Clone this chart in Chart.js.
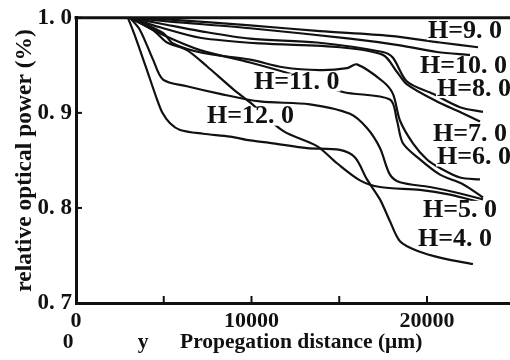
<!DOCTYPE html>
<html>
<head>
<meta charset="utf-8">
<script src="https://cdn.jsdelivr.net/npm/chart.js@4/dist/chart.umd.min.js"></script>
<style>
html,body{margin:0;padding:0;background:#fff;overflow:hidden;width:510px;height:360px;}
canvas{display:block;}
</style>
</head>
<body>
<canvas id="c" width="520" height="360"></canvas>
<script>
// ---- data (propagation distance in µm, relative optical power) ----
const dist_H9  = [3080,5360,9920,13900,17890,20740,22910];
const power_H9 = [1.000,0.998,0.992,0.986,0.981,0.974,0.969];

const dist_H10  = [3080,5360,9920,15610,18460,20570,22450];
const power_H10 = [1.000,0.996,0.989,0.978,0.971,0.964,0.961];

const dist_H8  = [3080,4790,7070,9920,13730,17490,18060,18860,20340,21880,23190];
const power_H8 = [1.000,0.994,0.986,0.978,0.974,0.964,0.958,0.933,0.920,0.906,0.901];

const dist_H7  = [3080,4790,7070,10480,15040,17490,18290,18860,20570,21880,23020];
const power_H7 = [1.000,0.990,0.979,0.973,0.969,0.961,0.943,0.930,0.912,0.901,0.891];

const dist_H6  = [3080,4960,5530,7240,9920,11800,13900,15440,16010,17490,18060,18460,19200,20000,20740,21880,23020];
const power_H6 = [1.000,0.984,0.973,0.963,0.956,0.948,0.945,0.947,0.951,0.933,0.920,0.892,0.868,0.851,0.842,0.832,0.830];

const dist_H11  = [3080,5070,7070,9920,12760,15210,17890,18290,18630,19600,20740,22050,23190];
const power_H11 = [1.000,0.981,0.966,0.953,0.938,0.922,0.914,0.892,0.868,0.851,0.835,0.825,0.811];

const dist_H5  = [3080,3650,4390,4960,6320,8210,10480,13330,15610,16580,17320,17890,18460,20170,21710,23190];
const power_H5 = [1.000,0.987,0.956,0.935,0.928,0.920,0.912,0.909,0.899,0.884,0.863,0.835,0.827,0.822,0.816,0.809];

const dist_H12  = [3080,4390,5190,6320,7460,8950,9920,11800,13730,14870,16180,17320,19600,21310,23020];
const power_H12 = [1.000,0.987,0.974,0.966,0.949,0.925,0.911,0.881,0.865,0.847,0.829,0.822,0.819,0.814,0.806];

const dist_H4  = [2960,3360,3930,4620,4900,5360,5930,7240,8780,9920,11230,13160,15040,15900,16580,17320,17890,18460,19430,20910,22620];
const power_H4 = [1.000,0.981,0.951,0.914,0.901,0.889,0.882,0.878,0.875,0.871,0.868,0.863,0.861,0.853,0.830,0.809,0.786,0.765,0.755,0.747,0.741];

const seriesNames = ['H=9.0','H=10.0','H=8.0','H=7.0','H=6.0','H=11.0','H=5.0','H=12.0','H=4.0'];
const seriesDist  = [dist_H9,dist_H10,dist_H8,dist_H7,dist_H6,dist_H11,dist_H5,dist_H12,dist_H4];
const seriesPower = [power_H9,power_H10,power_H8,power_H7,power_H6,power_H11,power_H5,power_H12,power_H4];

// curve annotations (text + anchor in data units)
const labelText = ['H=9. 0','H=10. 0','H=8. 0','H=11. 0','H=12. 0','H=7. 0','H=6. 0','H=5. 0','H=4. 0'];
const labelDist = [20060,19600,20570,10140,7460,20340,20570,19770,19490];
const labelPow  = [0.986,0.949,0.925,0.932,0.896,0.877,0.853,0.798,0.767];

const yTicks = [0.7,0.8,0.9,1.0];
const xTicks = [0,5000,10000,15000,20000,25000];
const xLabelled = [0,10000,20000];

const SERIF = "'Liberation Serif','DejaVu Serif',serif";
const INK = '#111';

const datasets = seriesNames.map((n,i)=>({
  label:n,
  data: seriesDist[i].map((x,j)=>({x:x,y:seriesPower[i][j]})),
  borderColor: INK,
  borderWidth: 2.2,
  pointRadius: 0,
  fill:false,
  tension:0.3
}));

const framePlugin = {
  id:'frame',
  afterDraw(chart){
    const ctx = chart.ctx, a = chart.chartArea;
    const xs = chart.scales.x, ys = chart.scales.y;
    ctx.save();
    ctx.strokeStyle = INK;
    // top frame line
    ctx.lineWidth = 3;
    ctx.beginPath(); ctx.moveTo(a.left-1.5, a.top); ctx.lineTo(a.right, a.top); ctx.stroke();
    // inward ticks
    ctx.lineWidth = 2;
    xs.ticks.forEach(t=>{
      const px = xs.getPixelForValue(t.value);
      if (px < a.left+2 || px > a.right-2) return;
      ctx.beginPath(); ctx.moveTo(px, a.bottom); ctx.lineTo(px, a.bottom-7); ctx.stroke();
    });
    ys.ticks.forEach(t=>{
      const py = ys.getPixelForValue(t.value);
      ctx.beginPath(); ctx.moveTo(a.left, py); ctx.lineTo(a.left+6, py); ctx.stroke();
    });
    // curve labels
    ctx.font = "bold 26px " + SERIF;
    ctx.textAlign = 'left';
    ctx.textBaseline = 'middle';
    labelText.forEach((s,i)=>{
      const px = xs.getPixelForValue(labelDist[i]);
      const py = ys.getPixelForValue(labelPow[i]);
      ctx.fillStyle = '#fff';
      const w = ctx.measureText(s).width;
      ctx.fillRect(px-1, py-9, w+2, 18);
      ctx.fillStyle = INK;
      ctx.fillText(s, px, py);
    });
    // second row under the x axis
    ctx.fillStyle = INK;
    ctx.font = "bold 21.5px " + SERIF;
    ctx.textBaseline = 'middle';
    ctx.textAlign = 'center';
    const rowY = a.bottom + 39;
    ctx.fillText('0', xs.getPixelForValue(0) - 8, rowY);
    ctx.fillText('y', 143, rowY);
    ctx.textAlign = 'left';
    ctx.fillText('Propegation distance (\u03bcm)', 180, rowY);
    ctx.restore();
  }
};

new Chart(document.getElementById('c'), {
  type:'line',
  data:{datasets},
  options:{
    responsive:false,
    animation:false,
    events:[],
    layout:{padding:{top:12,left:0,right:0,bottom:0}},
    plugins:{legend:{display:false},tooltip:{enabled:false}},
    scales:{
      x:{
        type:'linear',
        min:0, max:25300,
        grid:{display:false, drawTicks:false},
        border:{display:true, width:3, color:INK},
        afterBuildTicks:(s)=>{ s.ticks = xTicks.map(v=>({value:v})); },
        ticks:{
          padding:5, maxRotation:0, minRotation:0, autoSkip:false,
          color:INK, font:{family:SERIF, size:22, weight:'bold'},
          callback:function(v){
            const n = Math.round(Number(v));
            return xLabelled.indexOf(n) >= 0 ? String(n) : '';
          }
        },
        afterFit:(s)=>{ s.height = 57; }
      },
      y:{
        type:'linear',
        min:0.7, max:1.0,
        grid:{display:false, drawTicks:false},
        border:{display:true, width:3, color:INK},
        afterBuildTicks:(s)=>{ s.ticks = yTicks.map(v=>({value:v})); },
        ticks:{
          padding:4, color:INK, font:{family:SERIF, size:23, weight:'bold'},
          callback:(v)=> Number(v).toFixed(1).replace('.', '. ')
        },
        title:{
          display:true, text:'relative optical power (%)',
          color:INK, font:{family:SERIF, size:23.5, weight:'bold'},
          padding:{top:11,bottom:0}
        },
        afterFit:(s)=>{ s.width = 76; }
      }
    }
  },
  plugins:[framePlugin]
});
</script>
</body>
</html>
